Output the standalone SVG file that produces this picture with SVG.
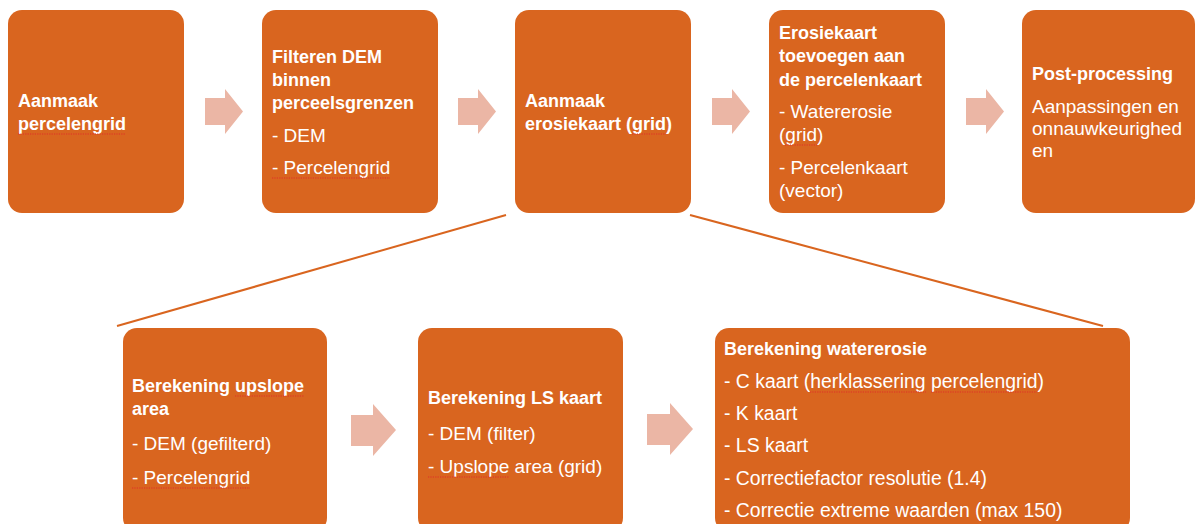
<svg xmlns="http://www.w3.org/2000/svg" width="1195" height="524" viewBox="0 0 1195 524">
<style>
.box{fill:#D9651F}
.arr{fill:#EBB6A5}
.con{stroke:#D9651F;stroke-width:2;fill:none}
text{font-family:"Liberation Sans",Arial,sans-serif;fill:#FFFFFF}
.b{font-weight:bold;font-size:18px}
.r{font-size:19px}
.r2{font-size:19.4px}
.sp{stroke:#E0302A;stroke-width:1.2;stroke-dasharray:1.2 1.2;fill:none}
</style>
<rect width="1195" height="524" fill="#FFFFFF"/>
<g id="connectors">
<line class="con" x1="506" y1="215" x2="117" y2="326"/>
<line class="con" x1="690" y1="215" x2="1103" y2="326"/>
<polygon class="arr" points="205,98 225,98 225,89 243,111.5 225,134 225,125 205,125"/>
<polygon class="arr" points="458,98 478,98 478,89 496,111.5 478,134 478,125 458,125"/>
<polygon class="arr" points="712,98 732,98 732,89 750,111.5 732,134 732,125 712,125"/>
<polygon class="arr" points="966,98 986,98 986,89 1004,111.5 986,134 986,125 966,125"/>
<polygon class="arr" points="351,415 373,415 373,404 396,430 373,456 373,446 351,446"/>
<polygon class="arr" points="647,414 670,414 670,403 693,429 670,455 670,445 647,445"/>
</g>
<g id="n1">
<rect class="box" x="8" y="10" width="176" height="203" rx="14"/>
<text class="b" x="18" y="107">Aanmaak</text>
<text class="b" x="18" y="130">percelengrid</text>
<path class="sp" d="M18 134H126"/>
</g>
<g id="n2">
<rect class="box" x="262" y="10" width="176" height="203" rx="14"/>
<text class="b" x="272" y="63">Filteren DEM</text>
<text class="b" x="272" y="86">binnen</text>
<text class="b" x="272" y="109">perceelsgrenzen</text>
<text class="r" x="272" y="142">- DEM</text>
<text class="r" x="272" y="174">- Percelengrid</text>
<path class="sp" d="M272 178H390"/>
</g>
<g id="n3">
<rect class="box" x="515" y="10" width="176" height="203" rx="14"/>
<text class="b" x="525" y="107">Aanmaak</text>
<text class="b" x="525" y="130">erosiekaart (grid)</text>
<path class="sp" d="M632 134H666"/>
</g>
<g id="n4">
<rect class="box" x="769" y="10" width="176" height="203" rx="14"/>
<text class="b" x="779" y="39">Erosiekaart</text>
<text class="b" x="779" y="62">toevoegen aan</text>
<text class="b" x="779" y="86">de percelenkaart</text>
<text class="r" x="779" y="118">- Watererosie</text>
<text class="r" x="779" y="141">(grid)</text>
<text class="r" x="779" y="174">- Percelenkaart</text>
<text class="r" x="779" y="197">(vector)</text>
<path class="sp" d="M785 145H817"/>
</g>
<g id="n5">
<rect class="box" x="1022" y="10" width="173" height="203" rx="14"/>
<text class="b" x="1032" y="80">Post-processing</text>
<text class="r" x="1032" y="113">Aanpassingen en</text>
<text class="r" x="1032" y="135">onnauwkeurighed</text>
<text class="r" x="1032" y="157">en</text>
</g>
<g id="n6">
<rect class="box" x="123" y="328" width="204" height="204" rx="14"/>
<text class="b" x="132" y="392">Berekening upslope</text>
<text class="b" x="132" y="415">area</text>
<text class="r" x="132" y="450">- DEM (gefilterd)</text>
<text class="r" x="132" y="484">- Percelengrid</text>
<path class="sp" d="M235 396H304M132 488H250"/>
</g>
<g id="n7">
<rect class="box" x="418" y="328" width="205" height="204" rx="14"/>
<text class="b" x="428" y="404">Berekening LS kaart</text>
<text class="r" x="428" y="440">- DEM (filter)</text>
<text class="r" x="428" y="473">- Upslope area (grid)</text>
<path class="sp" d="M428 477H509"/>
</g>
<g id="n8">
<rect class="box" x="715" y="328" width="415" height="204" rx="14"/>
<text class="b" x="724" y="355">Berekening watererosie</text>
<text class="r2" x="724" y="388">- C kaart (herklassering percelengrid)</text>
<text class="r2" x="724" y="420">- K kaart</text>
<text class="r2" x="724" y="452">- LS kaart</text>
<text class="r2" x="724" y="485">- Correctiefactor resolutie (1.4)</text>
<text class="r2" x="724" y="517">- Correctie extreme waarden (max 150)</text>
<path class="sp" d="M810 392H926M931 392H1037"/>
</g>
</svg>
